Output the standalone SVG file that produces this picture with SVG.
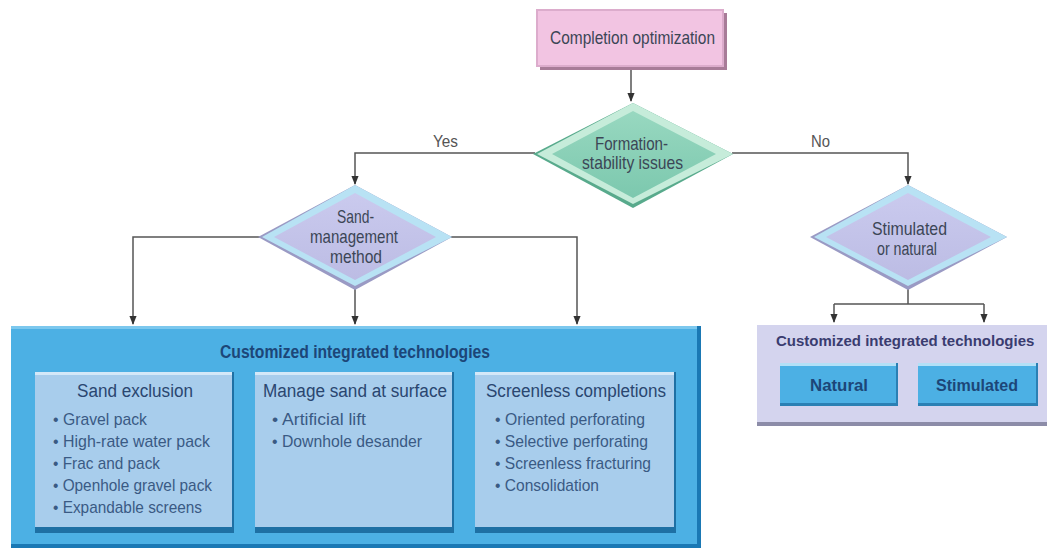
<svg xmlns="http://www.w3.org/2000/svg" width="1047" height="550" viewBox="0 0 1047 550">
<style>
text{font-family:"Liberation Sans",Arial,sans-serif;}
.lbl{font-size:17px;fill:#555}
.dt{font-size:19px;fill:#3c4656}
.hd{font-size:18px;fill:#2a4670}
.bl{font-size:17px;fill:#3a5a84}
.bt{font-size:18px;font-weight:bold;fill:#1c4678}
.conn{fill:none;stroke:#555;stroke-width:1.5}
</style>
<defs>
<marker id="ah" viewBox="0 0 10 10" refX="9" refY="5" markerWidth="6" markerHeight="6" orient="auto"><path d="M0,1 L10,5 L0,9 z" fill="#333"/></marker>
<linearGradient id="gg" x1="0" y1="0" x2="0" y2="1"><stop offset="0" stop-color="#98d8c0"/><stop offset="1" stop-color="#7cc8ae"/></linearGradient>
<linearGradient id="lg" x1="0" y1="0" x2="0" y2="1"><stop offset="0" stop-color="#cacaee"/><stop offset="1" stop-color="#bcbce4"/></linearGradient>
</defs>
<g id="connectors">
<path class="conn" d="M631,69 V101" marker-end="url(#ah)"/>
<path class="conn" d="M535,153 H355 V184" marker-end="url(#ah)"/>
<path class="conn" d="M732,153 H908 V184" marker-end="url(#ah)"/>
<path class="conn" d="M260,237 H133 V324" marker-end="url(#ah)"/>
<path class="conn" d="M355,288 V324" marker-end="url(#ah)"/>
<path class="conn" d="M450,237 H577 V324" marker-end="url(#ah)"/>
<path class="conn" d="M908,288 V304 M834,304 H984"/>
<path class="conn" d="M834,304 V322" marker-end="url(#ah)"/>
<path class="conn" d="M984,304 V322" marker-end="url(#ah)"/>
<text class="lbl" x="433" y="147" textLength="25" lengthAdjust="spacingAndGlyphs">Yes</text>
<text class="lbl" x="811" y="147" textLength="19" lengthAdjust="spacingAndGlyphs">No</text>
</g>
<g id="completion-optimization">
<rect x="540" y="13" width="187" height="57" fill="#a87c98"/>
<rect x="537" y="10" width="186" height="56" fill="#f2c4e2" stroke="#dcaccc" stroke-width="2"/>
<text class="dt" x="550" y="44" textLength="165" lengthAdjust="spacingAndGlyphs">Completion optimization</text>
</g>
<g id="formation-stability">
<polygon points="633,103 733,154 633,208 533,154" fill="#58aa8c"/>
<polygon points="633,103 733,154 633,204 537,154" fill="#c6ecda"/>
<polygon points="633,111 716,154 633,198 552,154" fill="url(#gg)"/>
<text class="dt" x="595" y="150" textLength="73" lengthAdjust="spacingAndGlyphs">Formation-</text>
<text class="dt" x="582" y="169" textLength="101" lengthAdjust="spacingAndGlyphs">stability issues</text>
</g>
<g id="sand-management">
<polygon points="355,185 452,237 355,290 258,237" fill="#9a9ac4"/>
<polygon points="355,185 452,237 355,286 262,237" fill="#b8e2f4"/>
<polygon points="355,193 436,237 355,280 274,237" fill="url(#lg)"/>
<text class="dt" x="337" y="223" textLength="37" lengthAdjust="spacingAndGlyphs">Sand-</text>
<text class="dt" x="310" y="243" textLength="88" lengthAdjust="spacingAndGlyphs">management</text>
<text class="dt" x="330" y="263" textLength="52" lengthAdjust="spacingAndGlyphs">method</text>
</g>
<g id="stimulated-natural">
<polygon points="908,185 1007,237 908,290 810,237" fill="#9a9ac4"/>
<polygon points="908,185 1007,237 908,286 814,237" fill="#b8e2f4"/>
<polygon points="908,193 991,237 908,280 826,237" fill="url(#lg)"/>
<text class="dt" x="872" y="235" textLength="75" lengthAdjust="spacingAndGlyphs">Stimulated</text>
<text class="dt" x="877" y="255" textLength="60" lengthAdjust="spacingAndGlyphs">or natural</text>
</g>
<g id="left-technologies">
<rect x="11" y="326" width="690" height="222" fill="#1a78b4"/>
<rect x="11" y="326" width="686" height="218" fill="#4cb0e4"/>
<rect x="11" y="326" width="686" height="3" fill="#7cc8ee"/>
<text class="bt" x="220" y="358" textLength="270" lengthAdjust="spacingAndGlyphs">Customized integrated technologies</text>
<g id="sand-exclusion">
<rect x="35" y="372" width="199" height="161" fill="#1e70a4"/>
<rect x="35" y="372" width="197" height="155" fill="#a8cdec"/>
<rect x="35" y="372" width="197" height="3" fill="#d4e8f8"/>
<text class="hd" x="77" y="397" textLength="116" lengthAdjust="spacingAndGlyphs">Sand exclusion</text>
<text class="bl" x="53" y="425" textLength="94" lengthAdjust="spacingAndGlyphs">• Gravel pack</text>
<text class="bl" x="53" y="447" textLength="157" lengthAdjust="spacingAndGlyphs">• High-rate water pack</text>
<text class="bl" x="53" y="469" textLength="107" lengthAdjust="spacingAndGlyphs">• Frac and pack</text>
<text class="bl" x="53" y="491" textLength="159" lengthAdjust="spacingAndGlyphs">• Openhole gravel pack</text>
<text class="bl" x="53" y="513" textLength="149" lengthAdjust="spacingAndGlyphs">• Expandable screens</text>
</g>
<g id="manage-sand">
<rect x="255" y="372" width="199" height="161" fill="#1e70a4"/>
<rect x="255" y="372" width="197" height="155" fill="#a8cdec"/>
<rect x="255" y="372" width="197" height="3" fill="#d4e8f8"/>
<text class="hd" x="263" y="397" textLength="184" lengthAdjust="spacingAndGlyphs">Manage sand at surface</text>
<text class="bl" x="272" y="425" textLength="94" lengthAdjust="spacingAndGlyphs">• Artificial lift</text>
<text class="bl" x="272" y="447" textLength="150" lengthAdjust="spacingAndGlyphs">• Downhole desander</text>
</g>
<g id="screenless">
<rect x="475" y="372" width="201" height="161" fill="#1e70a4"/>
<rect x="475" y="372" width="199" height="155" fill="#a8cdec"/>
<rect x="475" y="372" width="199" height="3" fill="#d4e8f8"/>
<text class="hd" x="486" y="397" textLength="180" lengthAdjust="spacingAndGlyphs">Screenless completions</text>
<text class="bl" x="495" y="425" textLength="150" lengthAdjust="spacingAndGlyphs">• Oriented perforating</text>
<text class="bl" x="495" y="447" textLength="153" lengthAdjust="spacingAndGlyphs">• Selective perforating</text>
<text class="bl" x="495" y="469" textLength="156" lengthAdjust="spacingAndGlyphs">• Screenless fracturing</text>
<text class="bl" x="495" y="491" textLength="104" lengthAdjust="spacingAndGlyphs">• Consolidation</text>
</g>
</g>
<g id="right-technologies">
<rect x="757" y="325" width="290" height="101" fill="#8c8ca8"/>
<rect x="757" y="325" width="290" height="97" fill="#d4d4ee"/>
<text class="bt" x="776" y="346" style="fill:#3a3c70;font-size:15px">Customized integrated technologies</text>
<g id="natural">
<rect x="780" y="363" width="118" height="43" fill="#2a80b4"/>
<rect x="780" y="363" width="116" height="40" fill="#4cb0e4"/>
<rect x="780" y="363" width="116" height="3" fill="#b4e0f6"/>
<text class="bt" x="810" y="391" textLength="58" lengthAdjust="spacingAndGlyphs" style="font-size:17px">Natural</text>
</g>
<g id="stimulated">
<rect x="918" y="363" width="120" height="43" fill="#2a80b4"/>
<rect x="918" y="363" width="118" height="40" fill="#4cb0e4"/>
<rect x="918" y="363" width="118" height="3" fill="#b4e0f6"/>
<text class="bt" x="936" y="391" textLength="82" lengthAdjust="spacingAndGlyphs" style="font-size:17px">Stimulated</text>
</g>
</g>
</svg>
